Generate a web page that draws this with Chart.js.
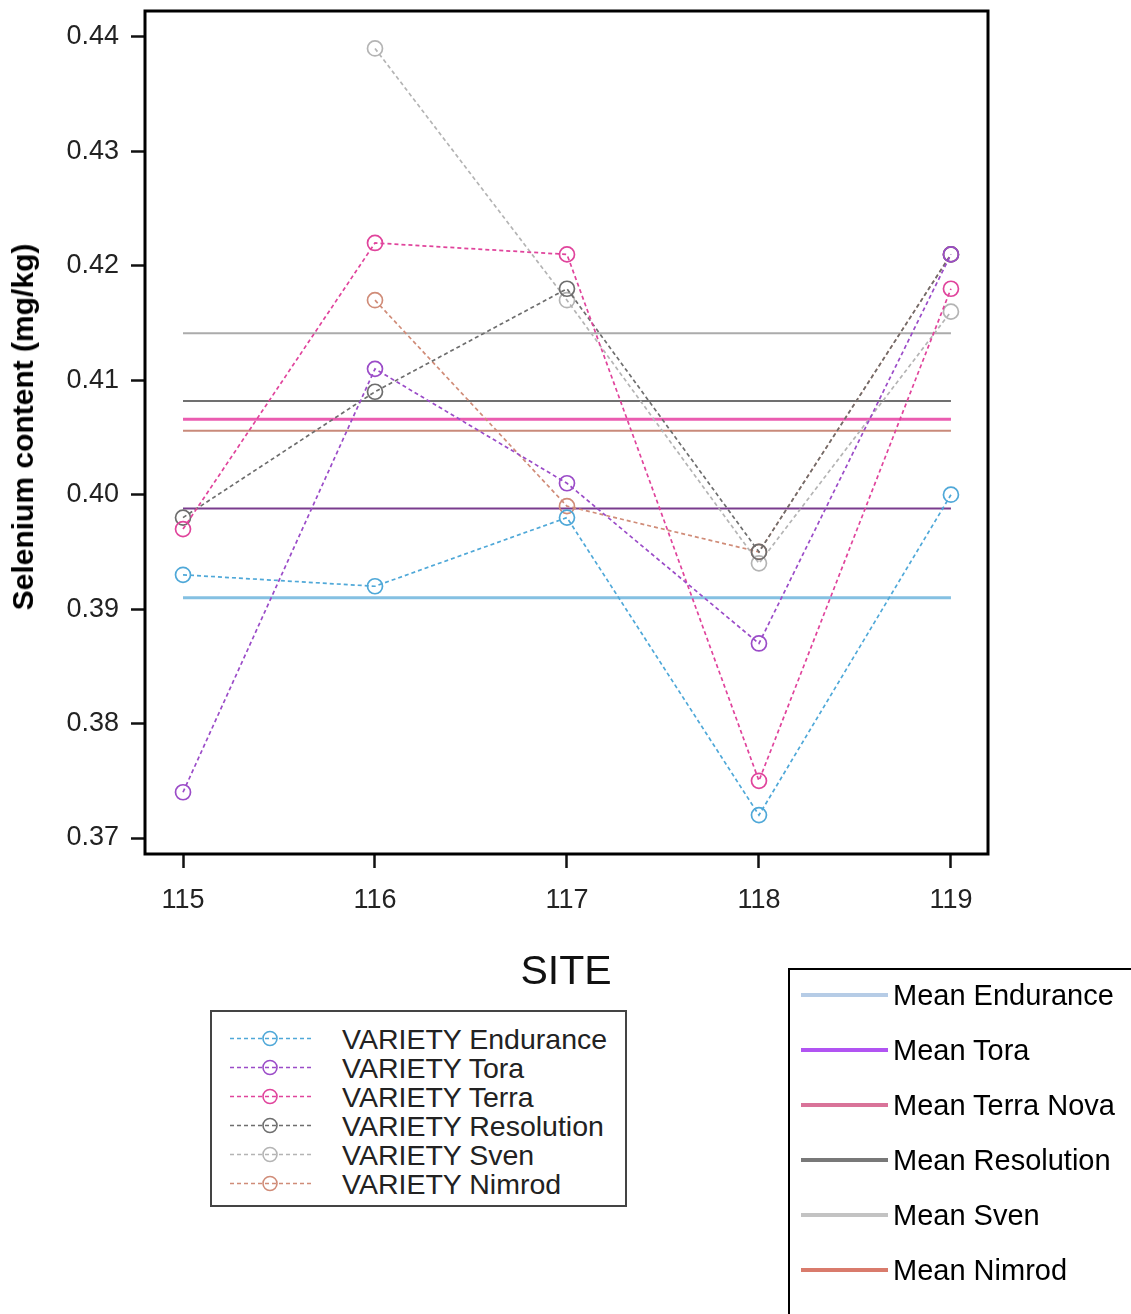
<!DOCTYPE html>
<html>
<head>
<meta charset="utf-8">
<script src="https://cdn.jsdelivr.net/npm/chart.js@4"></script>
<style>
  html, body { margin: 0; padding: 0; background: #fff; width: 1131px; height: 1314px; overflow: hidden; }
  body { position: relative; font-family: "Liberation Sans", Arial, sans-serif; color: #111; }
  #wrap { position: absolute; left: 0; top: 0; width: 1131px; height: 1000px; }
  .ytitle { position: absolute; left: 23px; top: 427px; transform: translate(-50%, -50%) rotate(-90deg);
            white-space: nowrap; font-weight: bold; font-size: 30px; color: #000; }
  .xtitle { position: absolute; left: 566px; top: 970px; transform: translate(-50%, -50%);
            font-size: 41px; color: #111; }
  #legVar { position: absolute; left: 210px; top: 1010px; width: 413px; height: 193px; border: 2px solid #444; }
  #legVar .row { position: absolute; left: 0; height: 29px; width: 100%; }
  #legVar svg { position: absolute; left: 16px; top: 0; }
  #legVar span { position: absolute; left: 130px; top: 50%; transform: translateY(-50%); font-size: 28.5px; color: #222; white-space: nowrap; }
  #legMean { position: absolute; left: 788px; top: 968px; width: 400px; height: 400px; border-left: 2px solid #000; border-top: 2px solid #000; }
  #legMean .row { position: absolute; left: 0; height: 40px; width: 100%; }
  #legMean .ln { position: absolute; left: 11px; top: 18px; width: 87px; height: 4px; }
  #legMean span { position: absolute; left: 103px; top: 50%; transform: translateY(-50%); font-size: 29px; color: #000; white-space: nowrap; }
</style>
</head>
<body>
<div id="wrap"><canvas id="chart"></canvas></div>
<div class="ytitle">Selenium content (mg/kg)</div>
<div class="xtitle">SITE</div>
<div id="legVar"></div>
<div id="legMean"></div>

<script>
// 数据
const sites = [115, 116, 117, 118, 119];
const yTicks = [0.37, 0.38, 0.39, 0.40, 0.41, 0.42, 0.43, 0.44];

const varieties = ['Endurance', 'Tora', 'Terra', 'Resolution', 'Sven', 'Nimrod'];
const endurance  = [0.393, 0.392, 0.398, 0.372, 0.400];
const tora       = [0.374, 0.411, 0.401, 0.387, 0.421];
const terra      = [0.397, 0.422, 0.421, 0.375, 0.418];
const resolution = [0.398, 0.409, 0.418, 0.395, 0.421];
const sven       = [null, 0.439, 0.417, 0.394, 0.416];
const nimrod     = [null, 0.417, 0.399, 0.395, 0.421];
const seriesValues = [endurance, tora, terra, resolution, sven, nimrod];
const varietyColors = ['#4fa8d8', '#9b4cc8', '#e0449c', '#6e6e6e', '#b4b4b4', '#d08c78'];

// 平均值
const meanLabels = ['Mean Endurance', 'Mean Tora', 'Mean Terra Nova', 'Mean Resolution', 'Mean Sven', 'Mean Nimrod'];
const meanValues = [0.3910, 0.3988, 0.4066, 0.4082, 0.4141, 0.4056];
const meanPlotColors = ['#84c0e2', '#7a3c8e', '#ea5cb0', '#707070', '#ababab', '#c98a7a'];
const meanPlotWidths = [3, 2, 3, 2, 2, 2];
const meanLegendColors = ['#b6cce6', '#b154f2', '#d97399', '#787878', '#c3c3c3', '#d97b6c'];

// 边框插件
const framePlugin = {
  id: 'frame',
  afterDatasetsDraw(chart) {
    const a = chart.chartArea, ctx = chart.ctx;
    ctx.save();
    ctx.strokeStyle = '#000';
    ctx.lineWidth = 3;
    ctx.strokeRect(a.left, a.top, a.right - a.left, a.bottom - a.top);
    ctx.restore();
  }
};

const datasets = [];
meanValues.forEach((m, i) => {
  datasets.push({
    label: meanLabels[i],
    data: [{ x: sites[0], y: m }, { x: sites[sites.length - 1], y: m }],
    borderColor: meanPlotColors[i],
    borderWidth: meanPlotWidths[i],
    pointRadius: 0,
    order: 2
  });
});
seriesValues.forEach((vals, i) => {
  datasets.push({
    label: 'VARIETY ' + varieties[i],
    data: sites.map((s, j) => ({ x: s, y: vals[j] })),
    borderColor: varietyColors[i],
    borderWidth: 1.7,
    borderDash: [4, 3],
    pointRadius: 7.5,
    pointBorderWidth: 1.7,
    pointBackgroundColor: 'rgba(0,0,0,0)',
    pointBorderColor: varietyColors[i],
    spanGaps: false,
    order: 1
  });
});

new Chart(document.getElementById('chart'), {
  type: 'line',
  data: { datasets },
  plugins: [framePlugin],
  options: {
    responsive: true,
    maintainAspectRatio: false,
    animation: false,
    layout: { padding: { left: 0, top: 11, right: 143, bottom: 1 } },
    plugins: { legend: { display: false }, tooltip: { enabled: false } },
    scales: {
      x: {
        type: 'linear',
        min: 114.802,
        max: 119.193,
        afterBuildTicks: s => { s.ticks = sites.map(v => ({ value: v })); },
        afterFit: s => { s.height = 145; s.paddingLeft = 0; s.paddingRight = 0; },
        border: { display: false },
        grid: { drawOnChartArea: false, drawTicks: true, tickLength: 14, tickWidth: 2.5, tickColor: '#111' },
        ticks: { color: '#222', font: { family: 'Liberation Sans, Arial', size: 27 }, padding: 16,
                 callback: v => String(v) }
      },
      y: {
        type: 'linear',
        min: 0.368602,
        max: 0.442272,
        afterBuildTicks: s => { s.ticks = yTicks.map(v => ({ value: v })); },
        afterFit: s => { s.width = 145; s.paddingTop = 0; s.paddingBottom = 0; },
        border: { display: false },
        grid: { drawOnChartArea: false, drawTicks: true, tickLength: 14, tickWidth: 2.5, tickColor: '#111' },
        ticks: { color: '#222', font: { family: 'Liberation Sans, Arial', size: 27 }, padding: 12,
                 callback: v => v.toFixed(2) }
      }
    }
  }
});

// 图例：品种
const legVar = document.getElementById('legVar');
varieties.forEach((name, i) => {
  const row = document.createElement('div');
  row.className = 'row';
  row.style.top = (12 + i * 29) + 'px';
  const c = varietyColors[i];
  row.innerHTML = `
    <svg width="90" height="29"><line x1="2" y1="14.5" x2="86" y2="14.5" stroke="${c}" stroke-width="1.6" stroke-dasharray="4 3"/>
    <circle cx="42" cy="14.5" r="7" fill="none" stroke="${c}" stroke-width="1.6"/></svg>
    <span>VARIETY ${name}</span>`;
  legVar.appendChild(row);
});

// 图例：平均值
const legMean = document.getElementById('legMean');
meanLabels.forEach((name, i) => {
  const row = document.createElement('div');
  row.className = 'row';
  row.style.top = (5 + i * 55) + 'px';
  row.innerHTML = `<div class="ln" style="background:${meanLegendColors[i]}"></div><span>${name}</span>`;
  legMean.appendChild(row);
});
</script>
</body>
</html>
